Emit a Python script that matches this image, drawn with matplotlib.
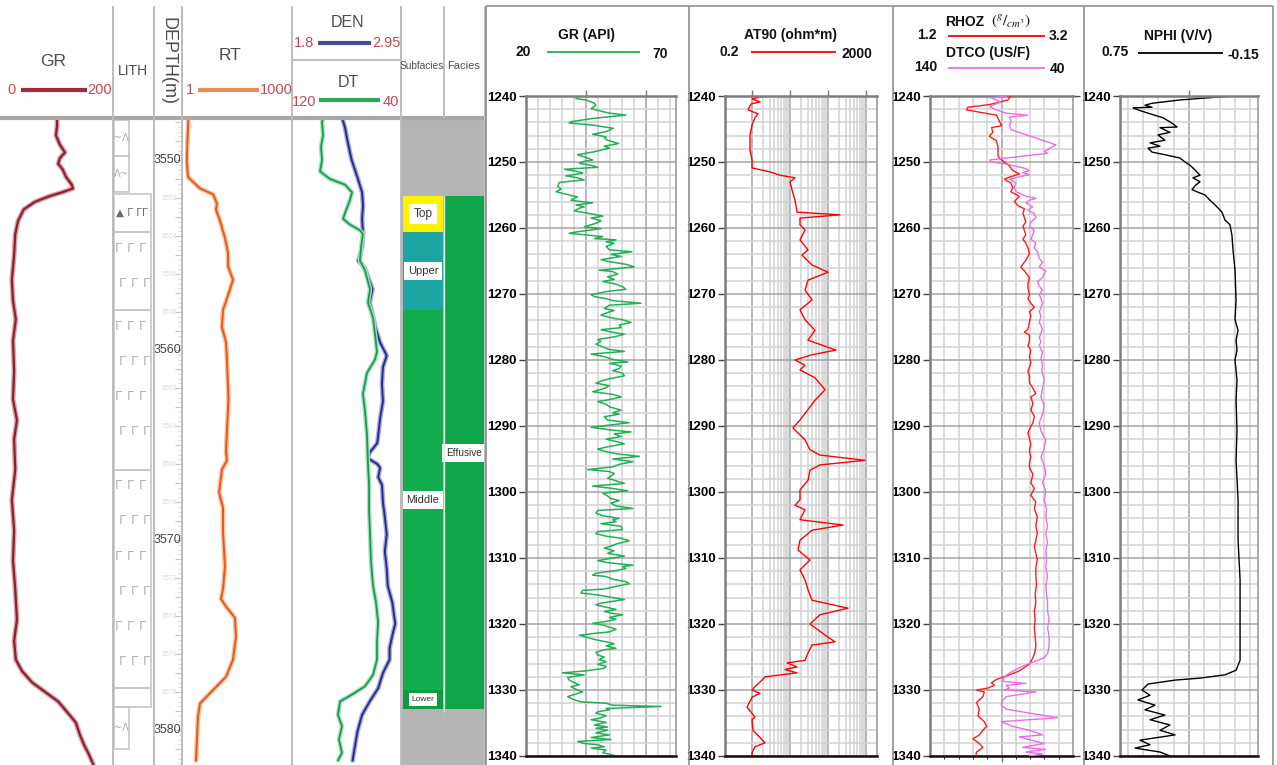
import numpy as np
import matplotlib
matplotlib.use("Agg")
import matplotlib.pyplot as plt
from matplotlib.ticker import FixedLocator, MultipleLocator, NullFormatter

# ---------------------------------------------------------------
# Core interval composite (left block)
# ---------------------------------------------------------------
core_depth_ticks = [3550, 3560, 3570, 3580]
core_depth_faint = [3552, 3554, 3556, 3558, 3562, 3564, 3566, 3568,
                    3572, 3574, 3576, 3578]

core_gr_depth = [3547.8, 3548.2, 3548.7, 3549.2, 3549.6, 3549.9, 3550.2, 3550.5, 3550.9, 3551.3,
                 3551.5, 3551.7, 3551.9, 3552.2, 3552.6, 3553.2, 3553.9, 3555.0, 3556.3, 3557.4,
                 3558.4, 3559.5, 3561.1, 3562.6, 3563.7, 3564.7, 3566.3, 3567.9, 3569.5, 3571.1,
                 3572.6, 3574.2, 3575.3, 3576.3, 3576.9, 3577.5, 3578.0, 3578.5, 3579.1, 3579.6,
                 3580.3, 3580.8, 3581.2, 3581.8]
core_gr = [101, 101, 99, 106, 115, 106, 103, 111, 117, 127,
           129, 110, 88, 62, 42, 32, 27, 25, 21, 23,
           28, 23, 25, 23, 30, 25, 27, 21, 25, 23,
           27, 30, 25, 28, 39, 57, 80, 103, 120, 134,
           142, 149, 156, 165]

core_rt_depth = [3547.9, 3550.0, 3550.9, 3551.5, 3551.8, 3552.3, 3552.6, 3553.2, 3554.1, 3554.9,
                 3555.6, 3556.3, 3556.8, 3557.9, 3558.8, 3559.6, 3560.5, 3562.6, 3565.3, 3565.8,
                 3566.3, 3567.5, 3568.3, 3569.6, 3571.4, 3572.6, 3573.1, 3573.5, 3574.1, 3575.1,
                 3576.3, 3577.2, 3577.9, 3578.6, 3579.3, 3580.4, 3581.6]
core_rt = [1.24, 1.12, 1.22, 2.66, 6.2, 8.05, 7.5, 9.8, 13.5, 16.5,
           16.5, 22.8, 18.8, 11.9, 11.1, 14.5, 15.4, 17.0, 14.5, 15.4,
           11.1, 9.2, 11.9, 11.9, 13.5, 11.9, 10.4, 14.5, 26.0, 27.7,
           22.8, 14.5, 6.2, 2.66, 2.33, 2.19, 2.05]

core_den_depth = [3547.8, 3548.3, 3549.1, 3550.0, 3550.9, 3551.7, 3552.4, 3553.1, 3553.9, 3554.6,
                  3555.3, 3555.7, 3556.4, 3556.8, 3557.5, 3558.1, 3558.8, 3559.6, 3560.3, 3560.9,
                  3561.8, 3562.7, 3563.6, 3564.5, 3564.9, 3565.4, 3565.7, 3566.0, 3566.2, 3566.7,
                  3567.1, 3568.0, 3568.8, 3569.7, 3570.6, 3571.5, 3572.4, 3573.3, 3573.7, 3574.4,
                  3575.0, 3575.7, 3576.3, 3577.0, 3577.8, 3578.5, 3579.2, 3580.1, 3580.7, 3581.6]
core_den = [2.34, 2.37, 2.40, 2.44, 2.50, 2.55, 2.56, 2.55, 2.56, 2.55,
            2.51, 2.58, 2.63, 2.66, 2.63, 2.66, 2.69, 2.74, 2.81, 2.77,
            2.76, 2.77, 2.74, 2.72, 2.71, 2.63, 2.61, 2.71, 2.74, 2.72,
            2.76, 2.77, 2.79, 2.81, 2.79, 2.81, 2.82, 2.87, 2.88, 2.90,
            2.87, 2.84, 2.84, 2.77, 2.72, 2.63, 2.55, 2.50, 2.48, 2.45]

core_dt_depth = [3547.8, 3548.0, 3548.7, 3549.3, 3550.0, 3550.6, 3551.0, 3551.3, 3551.7, 3552.1,
                 3552.8, 3553.1, 3553.4, 3553.7, 3553.9, 3554.6, 3555.3, 3555.8, 3556.4, 3556.8,
                 3557.5, 3558.3, 3559.2, 3560.1, 3560.5, 3561.2, 3562.3, 3563.2, 3564.5, 3566.0,
                 3567.1, 3568.4, 3569.7, 3571.1, 3572.4, 3573.3, 3574.3, 3575.4, 3576.3, 3577.1,
                 3577.7, 3578.1, 3578.5, 3579.2, 3579.8, 3580.5, 3581.2, 3581.6]
core_dt = [96.5, 97.2, 96.5, 98.0, 97.2, 98.7, 91.4, 80.4, 75.2, 76.7,
           80.4, 81.8, 76.7, 69.4, 67.2, 68.6, 69.4, 65.7, 63.5, 62.0,
           63.5, 59.8, 58.3, 56.9, 58.3, 64.2, 67.2, 65.7, 64.2, 63.5,
           62.7, 62.7, 62.0, 61.3, 59.8, 57.6, 56.1, 56.9, 56.9, 59.8,
           65.7, 74.5, 84.0, 85.5, 82.6, 84.8, 82.6, 85.5]

lith_top = [3547.9, 3549.8, 3551.8, 3553.8, 3557.9, 3566.3, 3577.8, 3578.8]
lith_base = [3549.8, 3551.7, 3553.8, 3557.9, 3566.3, 3577.8, 3578.8, 3581.0]
lith_kind = ['tuff', 'tuff_r', 'breccia', 'lava', 'lava', 'lava', 'lava', 'tuff']

subfacies_names = ['Top', 'Upper', 'Middle', 'Lower']
subfacies_top = [3551.9, 3553.8, 3557.9, 3577.9]
subfacies_base = [3553.8, 3557.9, 3577.9, 3578.9]
subfacies_colors = ['#fff200', '#1ca5a2', '#12ad4c', '#0c9c42']
facies_name = 'Effusive'
facies_top = 3551.9
facies_base = 3578.9

# ---------------------------------------------------------------
# Wireline logs 1240-1340 m (right block)
# ---------------------------------------------------------------
log_depth_ticks = [1240, 1250, 1260, 1270, 1280, 1290, 1300, 1310, 1320, 1330, 1340]

gr_depth = [
    1240.0, 1240.05, 1240.4, 1240.6, 1241.1, 1241.4, 1241.9, 1242.1, 1242.6, 1242.9,
    1243.4, 1243.9, 1244.1, 1244.4, 1244.9, 1245.4, 1245.8, 1246.2, 1246.4, 1246.7,
    1247.2, 1247.6, 1247.9, 1248.4, 1248.9, 1249.4, 1249.7, 1249.9, 1250.2, 1250.5,
    1250.8, 1251.1, 1251.5, 1251.7, 1252.1, 1252.4, 1252.7, 1253.1, 1253.7, 1254.1,
    1254.5, 1255.0, 1255.3, 1255.5, 1255.8, 1256.2, 1256.5, 1256.8, 1257.0, 1257.4,
    1257.8, 1258.2, 1258.5, 1258.9, 1259.3, 1259.8, 1260.1, 1260.6, 1260.8, 1261.3,
    1261.6, 1261.8, 1262.1, 1262.3, 1262.8, 1263.3, 1263.6, 1264.0, 1264.3, 1264.8,
    1265.1, 1265.5, 1265.9, 1266.4, 1266.6, 1267.0, 1267.4, 1267.8, 1268.1, 1268.5,
    1268.9, 1269.3, 1269.6, 1270.1, 1270.4, 1270.7, 1271.0, 1271.4, 1271.7, 1272.2,
    1272.5, 1272.8, 1273.2, 1273.6, 1273.9, 1274.3, 1274.7, 1275.1, 1275.4, 1275.7,
    1276.1, 1276.5, 1276.9, 1277.2, 1277.6, 1278.0, 1278.4, 1278.7, 1279.1, 1279.5,
    1279.9, 1280.3, 1280.5, 1280.9, 1281.3, 1281.6, 1282.0, 1282.4, 1282.8, 1283.1,
    1283.5, 1283.9, 1284.3, 1284.8, 1285.2, 1285.6, 1286.0, 1286.3, 1286.7, 1287.1,
    1287.6, 1288.0, 1288.2, 1288.6, 1289.1, 1289.5, 1289.8, 1290.2, 1290.6, 1290.9,
    1291.2, 1291.6, 1292.0, 1292.4, 1292.7, 1293.1, 1293.5, 1293.9, 1294.2, 1294.6,
    1295.0, 1295.4, 1295.8, 1296.2, 1296.6, 1296.9, 1297.2, 1297.6, 1297.9, 1298.3,
    1298.7, 1299.1, 1299.4, 1299.8, 1300.2, 1300.6, 1301.0, 1301.3, 1301.7, 1302.1,
    1302.5, 1302.8, 1303.2, 1303.6, 1304.0, 1304.2, 1304.5, 1304.8, 1305.2, 1305.7,
    1306.0, 1306.3, 1306.7, 1307.0, 1307.4, 1307.8, 1308.2, 1308.5, 1308.9, 1309.3,
    1309.7, 1310.0, 1310.4, 1310.7, 1311.1, 1311.3, 1311.6, 1311.9, 1312.3, 1312.6,
    1312.8, 1313.2, 1313.6, 1313.9, 1314.3, 1314.7, 1314.9, 1315.3, 1315.6, 1315.9,
    1316.3, 1316.6, 1316.9, 1317.1, 1317.5, 1317.8, 1318.1, 1318.4, 1318.6, 1319.0,
    1319.3, 1319.7, 1319.9, 1320.2, 1320.4, 1320.8, 1321.2, 1321.4, 1321.7, 1321.9,
    1322.2, 1322.4, 1322.7, 1323.0, 1323.3, 1323.7, 1323.9, 1324.3, 1324.7, 1325.0,
    1325.4, 1325.7, 1326.1, 1326.4, 1326.7, 1327.1, 1327.4, 1327.7, 1328.1, 1328.5,
    1328.9, 1329.2, 1329.5, 1329.9, 1330.3, 1330.6, 1331.0, 1331.4, 1331.8, 1332.0,
    1332.3, 1332.5, 1332.8, 1333.0, 1333.3, 1333.5, 1333.9, 1334.3, 1334.5, 1334.9,
    1335.3, 1335.6, 1335.8, 1336.1, 1336.5, 1336.8, 1337.2, 1337.5, 1337.8, 1338.1,
    1338.3, 1338.6, 1338.8, 1339.1, 1339.5, 1340.0]
gr_api = [
    27.2, 36.7, 36.7, 40.0, 42.8, 43.3, 41.7, 43.3, 47.8, 53.3,
    42.2, 35.0, 34.4, 42.2, 49.1, 46.7, 42.2, 46.7, 46.1, 47.2,
    50.9, 46.1, 47.8, 43.3, 37.2, 40.6, 42.2, 39.4, 37.8, 41.7,
    43.9, 32.8, 37.8, 38.9, 33.3, 37.2, 39.4, 31.1, 30.6, 31.7,
    30.0, 34.4, 37.2, 36.1, 35.0, 42.2, 36.7, 39.4, 37.8, 36.1,
    41.1, 45.6, 41.7, 45.0, 43.3, 39.4, 45.0, 36.7, 34.4, 45.6,
    42.8, 50.0, 46.7, 49.4, 46.7, 47.8, 55.3, 48.3, 51.7, 45.0,
    47.8, 53.3, 56.1, 44.4, 48.9, 50.6, 47.2, 49.4, 45.6, 50.0,
    52.2, 53.3, 47.2, 41.7, 42.8, 46.7, 48.9, 58.3, 47.8, 46.1,
    49.4, 47.2, 45.0, 48.3, 52.2, 55.0, 51.1, 51.7, 45.0, 47.8,
    52.8, 49.4, 43.9, 45.0, 43.3, 45.6, 47.8, 52.8, 41.7, 46.1,
    48.9, 53.9, 47.8, 51.7, 51.1, 48.9, 52.2, 52.8, 48.3, 45.6,
    43.3, 47.8, 46.1, 42.2, 48.9, 51.7, 47.8, 43.9, 46.7, 47.8,
    51.7, 48.9, 51.1, 46.1, 47.2, 54.4, 48.9, 41.7, 48.3, 55.0,
    49.4, 51.7, 46.7, 50.6, 52.8, 47.8, 43.9, 46.7, 50.0, 57.8,
    48.9, 55.6, 51.1, 48.9, 40.6, 47.8, 49.4, 48.3, 47.2, 50.0,
    52.8, 42.2, 47.8, 53.9, 45.6, 47.2, 48.3, 51.1, 48.3, 50.0,
    55.6, 43.9, 43.3, 45.6, 51.1, 48.9, 50.0, 45.0, 51.7, 52.2,
    43.9, 43.3, 46.7, 51.7, 54.4, 50.6, 48.3, 46.1, 49.4, 47.2,
    52.8, 48.9, 43.9, 47.2, 55.6, 52.2, 53.3, 50.0, 43.3, 42.2,
    46.7, 48.9, 53.3, 54.4, 50.0, 46.1, 38.9, 38.3, 43.9, 47.8,
    52.8, 48.3, 44.4, 43.3, 47.2, 50.0, 46.1, 48.9, 52.2, 47.8,
    50.0, 45.6, 42.2, 46.1, 47.2, 50.0, 47.8, 43.3, 37.8, 39.4,
    41.7, 43.3, 46.7, 49.4, 46.7, 50.0, 46.1, 43.3, 43.9, 46.1,
    44.4, 46.7, 43.9, 46.7, 46.1, 40.0, 32.2, 39.4, 33.9, 34.4,
    36.1, 37.8, 35.0, 36.7, 38.9, 36.7, 33.9, 35.6, 38.3, 46.7,
    48.9, 65.0, 46.7, 47.8, 43.9, 43.3, 46.7, 44.4, 41.7, 46.7,
    42.8, 47.2, 43.3, 47.2, 43.3, 47.8, 41.7, 48.3, 37.2, 39.4,
    43.9, 46.1, 41.7, 46.7, 45.6, 50.0]

at90_depth = [
    1240.0, 1240.45, 1240.9, 1241.2, 1242.1, 1242.7, 1243.3, 1244.4, 1245.9, 1248.2,
    1249.7, 1250.9, 1251.5, 1252.0, 1252.4, 1253.0, 1254.2, 1255.8, 1257.6, 1258.0,
    1258.5, 1259.5, 1260.3, 1261.8, 1263.3, 1264.1, 1265.6, 1266.7, 1267.9, 1269.4,
    1270.9, 1272.4, 1273.9, 1275.5, 1277.0, 1278.5, 1279.2, 1280.0, 1280.8, 1281.5,
    1282.7, 1284.5, 1286.1, 1289.1, 1290.3, 1292.1, 1293.6, 1294.4, 1295.2, 1295.9,
    1296.7, 1298.2, 1299.7, 1301.2, 1302.0, 1302.7, 1304.2, 1305.0, 1305.8, 1307.3,
    1308.8, 1310.3, 1311.8, 1313.3, 1314.8, 1316.4, 1317.6, 1318.6, 1320.0, 1322.0,
    1322.7, 1323.2, 1324.4, 1325.5, 1325.9, 1326.5, 1326.9, 1327.4, 1328.0, 1328.5,
    1329.5, 1330.0, 1330.5, 1331.1, 1332.6, 1334.1, 1334.5, 1336.1, 1338.0, 1338.6,
    1339.5, 1340.0]
at90_ohmm = [
    2.26, 1.03, 1.67, 0.97, 0.81, 1.48, 1.23, 1.03, 0.91, 0.91,
    1.03, 1.03, 3.06, 5.6, 13.9, 10.3, 11.6, 13.9, 15.7, 212,
    18.8, 18.8, 25.5, 18.8, 30.6, 21.2, 38.9, 103, 30.6, 25.5,
    38.9, 18.8, 25.5, 46.7, 30.6, 167, 38.9, 13.9, 25.5, 18.8,
    46.7, 86, 46.7, 18.8, 12.3, 25.5, 34.5, 63, 966, 63,
    34.5, 30.6, 18.8, 18.8, 13.9, 25.5, 18.8, 255, 38.9, 18.8,
    16.7, 34.5, 18.8, 25.5, 30.6, 38.9, 345, 63, 34.5, 103,
    157, 38.9, 30.6, 25.5, 8.6, 15.7, 7.6, 15.7, 2.26, 1.88,
    1.23, 1.03, 1.67, 1.03, 0.76, 1.23, 1.03, 1.09, 2.26, 1.23,
    1.03, 1.03]

rhoz_depth = [
    1240.0, 1240.6, 1241.3, 1241.7, 1242.1, 1242.9, 1243.8, 1244.5, 1244.8, 1245.5,
    1246.1, 1246.8, 1247.7, 1248.4, 1249.0, 1249.4, 1250.0, 1250.6, 1251.3, 1251.8,
    1252.3, 1252.6, 1253.2, 1253.9, 1254.5, 1255.2, 1256.0, 1256.6, 1257.1, 1257.8,
    1258.4, 1259.1, 1259.7, 1260.4, 1261.0, 1261.7, 1262.3, 1263.0, 1263.9, 1264.9,
    1265.9, 1266.5, 1267.5, 1268.5, 1269.1, 1270.1, 1270.7, 1271.4, 1272.0, 1272.7,
    1273.3, 1274.3, 1275.3, 1275.8, 1276.2, 1277.2, 1277.8, 1278.5, 1279.5, 1280.4,
    1281.1, 1281.7, 1282.4, 1283.4, 1284.3, 1285.1, 1285.6, 1286.6, 1287.6, 1288.5,
    1289.5, 1290.5, 1291.1, 1291.8, 1292.7, 1293.7, 1294.7, 1295.7, 1296.3, 1297.3,
    1298.6, 1299.5, 1300.5, 1301.5, 1302.5, 1303.8, 1305.1, 1306.3, 1307.3, 1308.3,
    1309.3, 1310.2, 1311.5, 1312.8, 1314.1, 1315.4, 1316.7, 1318.0, 1319.3, 1320.6,
    1321.9, 1323.2, 1324.2, 1325.1, 1326.1, 1327.1, 1327.7, 1328.4, 1328.9, 1329.3,
    1329.7, 1330.0, 1330.3, 1331.0, 1331.9, 1332.9, 1333.9, 1334.8, 1335.5, 1336.1,
    1336.8, 1337.4, 1338.1, 1338.7, 1339.4, 1340.0]
rhoz_gcc = [
    2.33, 2.29, 2.03, 1.73, 1.71, 2.13, 2.17, 2.20, 2.06, 2.08,
    2.03, 2.13, 2.15, 2.15, 2.15, 2.17, 2.24, 2.31, 2.36, 2.45,
    2.31, 2.24, 2.33, 2.36, 2.33, 2.45, 2.38, 2.43, 2.52, 2.50,
    2.52, 2.54, 2.50, 2.52, 2.54, 2.50, 2.54, 2.57, 2.59, 2.54,
    2.47, 2.52, 2.59, 2.57, 2.57, 2.59, 2.57, 2.61, 2.66, 2.59,
    2.61, 2.59, 2.57, 2.52, 2.59, 2.59, 2.57, 2.61, 2.59, 2.61,
    2.59, 2.57, 2.59, 2.59, 2.64, 2.68, 2.61, 2.64, 2.61, 2.66,
    2.64, 2.59, 2.57, 2.59, 2.61, 2.59, 2.61, 2.59, 2.59, 2.64,
    2.61, 2.66, 2.61, 2.68, 2.66, 2.70, 2.68, 2.70, 2.68, 2.66,
    2.68, 2.70, 2.68, 2.68, 2.69, 2.67, 2.68, 2.66, 2.67, 2.66,
    2.67, 2.68, 2.67, 2.64, 2.59, 2.45, 2.31, 2.13, 2.06, 2.10,
    2.01, 1.85, 1.96, 1.94, 1.85, 1.89, 1.87, 1.96, 1.99, 1.94,
    1.89, 1.80, 1.89, 1.94, 1.85, 1.84]

dtco_depth = [
    1240.0, 1240.3, 1240.9, 1241.6, 1242.1, 1242.6, 1242.9, 1243.2, 1243.8, 1244.5,
    1245.1, 1247.4, 1248.4, 1248.7, 1249.4, 1249.7, 1250.0, 1250.3, 1251.0, 1251.3,
    1251.6, 1251.9, 1252.6, 1253.2, 1253.9, 1254.5, 1255.2, 1255.5, 1255.8, 1256.2,
    1256.8, 1257.3, 1257.8, 1258.4, 1259.1, 1259.7, 1260.4, 1261.0, 1261.7, 1262.3,
    1263.0, 1263.6, 1264.6, 1265.2, 1265.9, 1266.5, 1267.5, 1268.1, 1268.8, 1269.4,
    1270.1, 1270.7, 1271.4, 1272.0, 1272.7, 1273.3, 1274.3, 1275.3, 1275.9, 1276.6,
    1277.2, 1277.8, 1278.8, 1279.8, 1280.8, 1281.7, 1283.0, 1284.3, 1285.6, 1286.9,
    1288.2, 1289.5, 1290.8, 1292.1, 1293.4, 1294.7, 1296.0, 1297.3, 1298.6, 1299.9,
    1301.2, 1302.5, 1303.8, 1305.1, 1306.3, 1307.6, 1308.9, 1310.2, 1311.5, 1312.8,
    1314.1, 1315.4, 1316.7, 1318.0, 1319.3, 1320.6, 1321.9, 1323.2, 1324.5, 1325.1,
    1325.8, 1326.4, 1327.4, 1328.0, 1328.7, 1329.0, 1329.3, 1329.7, 1330.0, 1330.3,
    1331.0, 1331.6, 1332.3, 1332.9, 1333.5, 1334.2, 1334.8, 1335.5, 1336.1, 1336.8,
    1337.1, 1337.4, 1338.1, 1338.7, 1339.0, 1339.4, 1339.7, 1340.0]
dtco_usf = [
    86.8, 97.2, 90.2, 98.3, 93.7, 86.8, 71.7, 84.4, 83.3, 84.4,
    83.3, 52.0, 60.1, 57.8, 86.8, 98.3, 97.2, 86.8, 72.9, 70.5,
    75.2, 70.5, 84.4, 79.8, 81.0, 79.8, 72.9, 65.9, 70.5, 72.9,
    68.2, 71.7, 67.1, 65.9, 69.4, 70.5, 67.1, 68.2, 69.4, 65.9,
    67.1, 64.8, 63.6, 61.3, 63.6, 59.0, 61.3, 64.8, 63.6, 61.3,
    63.6, 62.4, 61.3, 62.4, 63.6, 62.4, 63.6, 61.3, 62.4, 63.6,
    62.4, 63.6, 61.3, 62.4, 61.3, 61.8, 60.1, 61.3, 62.4, 60.1,
    61.3, 63.6, 62.4, 59.0, 60.1, 62.4, 60.1, 59.0, 61.3, 59.0,
    60.1, 58.5, 59.0, 57.8, 59.0, 57.8, 59.0, 58.5, 59.0, 57.8,
    59.0, 58.5, 57.8, 57.8, 56.7, 57.8, 56.7, 56.7, 57.8, 60.1,
    68.2, 75.2, 84.4, 87.9, 89.1, 72.9, 86.8, 84.4, 87.9, 65.9,
    86.8, 89.1, 90.2, 86.8, 70.5, 50.9, 90.2, 82.1, 70.5, 61.3,
    77.5, 72.9, 60.1, 75.2, 59.0, 72.9, 61.3, 70.5]

nphi_depth = [
    1240.0, 1240.6, 1241.1, 1241.4, 1241.7, 1241.8, 1242.1, 1242.6, 1243.3, 1244.1,
    1244.7, 1244.8, 1245.5, 1245.9, 1246.7, 1247.1, 1247.6, 1247.9, 1248.5, 1248.9,
    1249.4, 1250.0, 1250.5, 1251.2, 1252.0, 1252.4, 1253.0, 1253.6, 1254.2, 1255.0,
    1255.8, 1256.5, 1257.6, 1258.8, 1259.5, 1261.1, 1263.3, 1266.4, 1270.9, 1273.9,
    1275.5, 1277.0, 1278.5, 1280.0, 1283.0, 1286.1, 1290.6, 1295.2, 1301.2, 1307.3,
    1313.3, 1319.4, 1325.5, 1327.0, 1327.7, 1328.2, 1328.5, 1329.1, 1330.0, 1330.8,
    1331.5, 1332.3, 1333.0, 1333.8, 1334.5, 1335.3, 1336.1, 1336.8, 1337.6, 1338.3,
    1338.8, 1339.4, 1340.0]
nphi_vv = [
    0.020, 0.359, 0.541, 0.587, 0.541, 0.665, 0.633, 0.567, 0.470, 0.411,
    0.378, 0.489, 0.424, 0.502, 0.457, 0.554, 0.489, 0.567, 0.541, 0.457,
    0.359, 0.326, 0.293, 0.261, 0.228, 0.274, 0.228, 0.261, 0.280, 0.196,
    0.163, 0.130, 0.085, 0.065, 0.033, 0.020, 0.013, 0.000, -0.007, 0.000,
    -0.020, -0.007, -0.013, 0.000, -0.013, -0.007, -0.013, -0.007, -0.020, -0.020,
    -0.033, -0.033, -0.033, -0.007, 0.065, 0.228, 0.391, 0.567, 0.607, 0.554,
    0.633, 0.522, 0.587, 0.457, 0.554, 0.424, 0.489, 0.391, 0.620, 0.554,
    0.652, 0.489, 0.424]

# ---------------------------------------------------------------
W, H = 1277, 765
NARROW = ['Liberation Sans', 'DejaVu Sans']
SANS = ['Liberation Sans', 'DejaVu Sans']
HEAD_GRAY = '#4d4d4d'
SCALE_RED = '#c24a55'

fig = plt.figure(figsize=(W / 100, H / 100), dpi=100)
fig.patch.set_facecolor('white')


def px_axes(x0, y0, x1, y1, **kw):
    return fig.add_axes([x0 / W, 1 - y1 / H, (x1 - x0) / W, (y1 - y0) / H], **kw)


def bare(ax):
    ax.set_xticks([])
    ax.set_yticks([])
    for s in ax.spines.values():
        s.set_visible(False)
    ax.patch.set_alpha(0)


CORE_TOP = 3550 + (118 - 160) / 19.0
CORE_BOT = 3550 + (765 - 160) / 19.0

# ---- GR (core) ----
ax_grc = px_axes(0, 118, 113, 765)
ax_grc.set_xlim(0, 200)
ax_grc.set_ylim(CORE_BOT, CORE_TOP)
ax_grc.plot(core_gr, core_gr_depth, color='#dba3aa', lw=3.6, solid_capstyle='round')
ax_grc.plot(core_gr, core_gr_depth, color='#8c1f30', lw=1.6)
bare(ax_grc)

# ---- LITH ----
ax_lith = px_axes(113, 118, 154, 765)
ax_lith.set_xlim(0, 41)
ax_lith.set_ylim(CORE_BOT, CORE_TOP)
bare(ax_lith)
for top, base, kind in zip(lith_top, lith_base, lith_kind):
    narrow = kind.startswith('tuff')
    width = 15 if narrow else 37
    ax_lith.add_patch(plt.Rectangle((0.5, top), width, base - top, fill=False,
                                    edgecolor='#c6c6c6', lw=1.2))
    mid = 0.5 * (top + base)
    if kind == 'tuff':
        ax_lith.text(8, mid, '~Λ', ha='center', va='center', fontsize=7, color='#a8a8a8')
    elif kind == 'tuff_r':
        ax_lith.text(8, mid, 'Λ~', ha='center', va='center', fontsize=7, color='#a8a8a8')
    elif kind == 'breccia':
        ax_lith.text(19, mid, '▲ Γ ΓΓ', ha='center', va='center', fontsize=7.5, color='#6a6a6a')
    else:
        y = top + 0.85
        row = 0
        while y < base - 0.45:
            xs = [5, 17, 29] if row % 2 == 0 else [9, 21, 33]
            for xv in xs:
                ax_lith.text(xv, y, 'Γ', ha='center', va='center', fontsize=9,
                             color='#b0b0b0', family=['DejaVu Sans'])
            y += 1.85
            row += 1

# ---- DEPTH ----
ax_dep = px_axes(154, 118, 182, 765)
ax_dep.set_xlim(0, 1)
ax_dep.set_ylim(CORE_BOT, CORE_TOP)
for s in ax_dep.spines.values():
    s.set_visible(False)
ax_dep.set_xticks([])
ax_dep.yaxis.set_ticks_position('right')
ax_dep.yaxis.set_major_locator(MultipleLocator(1))
ax_dep.yaxis.set_minor_locator(MultipleLocator(0.25))
ax_dep.yaxis.set_major_formatter(NullFormatter())
ax_dep.tick_params(axis='y', which='major', direction='in', length=5, color='#c8c8c8', labelright=False)
ax_dep.tick_params(axis='y', which='minor', direction='in', length=3, color='#d6d6d6')
tr = ax_dep.get_yaxis_transform()
for d in core_depth_ticks:
    ax_dep.text(0.47, d, str(d), transform=tr, ha='center', va='center',
                fontsize=9, color='#444444', family=NARROW)
for d in core_depth_faint:
    ax_dep.text(0.55, d, str(d), transform=tr, ha='center', va='center',
                fontsize=5, color='#dcdcdc', family=NARROW)

# ---- RT ----
ax_rt = px_axes(185, 118, 291, 765)
ax_rt.set_xscale('log')
ax_rt.set_xlim(1, 1000)
ax_rt.set_ylim(CORE_BOT, CORE_TOP)
ax_rt.plot(core_rt, core_rt_depth, color='#f9c39d', lw=3.4, solid_capstyle='round')
ax_rt.plot(core_rt, core_rt_depth, color='#e8571b', lw=1.4)
bare(ax_rt)
ax_rt.minorticks_off()

# ---- DEN / DT ----
ax_den = px_axes(291, 118, 400, 765)
ax_den.set_xlim(1.8, 2.95)
ax_den.set_ylim(CORE_BOT, CORE_TOP)
ax_den.plot(core_den, core_den_depth, color='#a9acdc', lw=3.4, solid_capstyle='round')
ax_den.plot(core_den, core_den_depth, color='#262b8c', lw=1.4)
bare(ax_den)
ax_dt = ax_den.twiny()
ax_dt.set_xlim(120, 40)
ax_dt.plot(core_dt, core_dt_depth, color='#a7e2bd', lw=3.2, solid_capstyle='round')
ax_dt.plot(core_dt, core_dt_depth, color='#1b9a4f', lw=1.3)
bare(ax_dt)

# ---- Subfacies / Facies ----
ax_fac = px_axes(401, 118, 485, 765)
ax_fac.set_xlim(0, 84)
ax_fac.set_ylim(CORE_BOT, CORE_TOP)
ax_fac.set_facecolor('#b5b5b5')
for s in ax_fac.spines.values():
    s.set_visible(False)
ax_fac.set_xticks([])
ax_fac.set_yticks([])
for name, top, base, col in zip(subfacies_names, subfacies_top, subfacies_base, subfacies_colors):
    ax_fac.bar(22, base - top, bottom=top, width=40, color=col, edgecolor='none')
ax_fac.bar(63, facies_base - facies_top, bottom=facies_top, width=39, color='#0fa64a', edgecolor='none')
label_size = {'Top': 8.5, 'Upper': 8, 'Middle': 8, 'Lower': 6}
for name, top, base in zip(subfacies_names, subfacies_top, subfacies_base):
    ax_fac.text(22, 0.5 * (top + base), name, ha='center', va='center',
                fontsize=label_size[name], color='#333333', family=NARROW,
                bbox=dict(boxstyle='square,pad=0.35', fc='white', ec='none'))
ax_fac.text(63, 0.5 * (facies_top + facies_base), facies_name, ha='center', va='center',
            fontsize=7.2, color='#333333', family=NARROW,
            bbox=dict(boxstyle='square,pad=0.4', fc='white', ec='none'))

# ---------------------------------------------------------------
# Wireline tracks
# ---------------------------------------------------------------

def log_track(ax):
    ax.set_ylim(1340, 1240)
    ax.set_yticks(log_depth_ticks, [str(t) for t in log_depth_ticks],
                  fontsize=9.5, fontweight='bold', family=SANS)
    ax.yaxis.set_minor_locator(MultipleLocator(2))
    ax.tick_params(axis='y', which='major', length=5, width=1.0, color='#444444', pad=1.5)
    ax.tick_params(axis='y', which='minor', length=0)
    ax.tick_params(axis='x', which='both', bottom=False, labelbottom=False, labeltop=False)
    ax.tick_params(axis='x', which='major', top=True, length=4, width=1.0, color='#7a7a7a')
    ax.tick_params(axis='x', which='minor', top=False)
    ax.xaxis.set_major_formatter(NullFormatter())
    ax.xaxis.set_minor_formatter(NullFormatter())
    ax.grid(which='minor', color='#d2d2d2', lw=1.1)
    ax.grid(which='major', color='#a4a4a4', lw=1.1)
    ax.set_axisbelow(True)
    for side, c, lw in [('left', '#7d7d7d', 1.8), ('top', '#7d7d7d', 1.8),
                        ('right', '#9c9c9c', 1.2), ('bottom', '#111111', 1.8)]:
        ax.spines[side].set_color(c)
        ax.spines[side].set_linewidth(lw)


ax_gr = px_axes(526, 96, 676, 756)
ax_gr.set_xlim(20, 70)
ax_gr.xaxis.set_major_locator(FixedLocator([40, 60]))
ax_gr.xaxis.set_minor_locator(MultipleLocator(4))
log_track(ax_gr)
ax_gr.plot(gr_api, gr_depth, color='#22b056', lw=1.1)

ax_at = px_axes(725, 96, 877, 756)
ax_at.set_xscale('log')
ax_at.set_xlim(0.2, 2000)
ax_at.xaxis.set_major_locator(FixedLocator([1, 10, 100, 1000]))
ax_at.xaxis.set_minor_locator(FixedLocator(
    [m * 10 ** e for e in range(0, 4) for m in range(2, 10) if m * 10 ** e < 2000]))
log_track(ax_at)
ax_at.plot(at90_ohmm, at90_depth, color='#ff0000', lw=1.0)

ax_rh = px_axes(930, 96, 1073, 756)
ax_rh.set_xlim(1.2, 3.2)
ax_rh.xaxis.set_major_locator(FixedLocator([2.2]))
ax_rh.xaxis.set_minor_locator(FixedLocator(np.round(np.arange(1.4, 3.19, 0.2), 1)))
log_track(ax_rh)
ax_rh.tick_params(axis='y', which='major', right=True, labelright=False)
ax_dtco = ax_rh.twiny()
ax_dtco.set_xlim(140, 40)
ax_dtco.set_xticks([])
for s in ax_dtco.spines.values():
    s.set_visible(False)
ax_dtco.plot(dtco_usf, dtco_depth, color='#ec6de8', lw=1.0)
ax_rh.plot(rhoz_gcc, rhoz_depth, color='#ff1a1a', lw=1.0, zorder=3)

ax_np = px_axes(1120, 96, 1258, 756)
ax_np.set_xlim(0.75, -0.15)
ax_np.xaxis.set_major_locator(FixedLocator([0.3]))
ax_np.xaxis.set_minor_locator(FixedLocator(np.round(np.arange(-0.1, 0.75, 0.1), 2)))
log_track(ax_np)
ax_np.plot(nphi_vv, nphi_depth, color='#000000', lw=1.0)

# ---------------------------------------------------------------
# Frame lines and headers (pixel space overlay)
# ---------------------------------------------------------------
deco = px_axes(0, 0, W, H, zorder=20)
deco.set_xlim(0, W)
deco.set_ylim(H, 0)
deco.axis('off')


def hline(x0, x1, y, **kw):
    deco.plot([x0, x1], [y, y], solid_capstyle='butt', **kw)


def vline(x, y0, y1, **kw):
    deco.plot([x, x], [y0, y1], solid_capstyle='butt', **kw)


def txt(x, y, s, **kw):
    kw.setdefault('ha', 'center')
    kw.setdefault('va', 'center')
    deco.text(x, y, s, **kw)


# left block frame
hline(0, 485, 118, color='#a8a8a8', lw=3)
for xv in [113, 154, 182, 292, 401, 485]:
    vline(xv, 6, 765, color='#bdbdbd', lw=1.4)
vline(444, 6, 118, color='#bdbdbd', lw=1.4)
vline(444, 196, 712, color='#d9f0df', lw=1.0)
hline(292, 401, 60, color='#bdbdbd', lw=1.4)

# left headers
txt(53, 61, 'GR', fontsize=12.5, color=HEAD_GRAY, family=NARROW)
txt(11, 90, '0', fontsize=10.5, color=SCALE_RED, family=NARROW)
hline(21, 87, 90, color='#9c2d3d', lw=3)
txt(100, 90, '200', fontsize=10.5, color=SCALE_RED, family=NARROW)
txt(133, 71, 'LITH', fontsize=10, color=HEAD_GRAY, family=NARROW)
txt(168, 61, 'DEPTH(m)', fontsize=13, color=HEAD_GRAY, family=NARROW, rotation=-90)
txt(230, 55, 'RT', fontsize=12.5, color=HEAD_GRAY, family=NARROW)
txt(190, 90, '1', fontsize=10.5, color=SCALE_RED, family=NARROW)
hline(198, 259, 90, color='#e88b5e', lw=3)
txt(276, 90, '1000', fontsize=10.5, color=SCALE_RED, family=NARROW)
txt(348, 22, 'DEN', fontsize=11.5, color=HEAD_GRAY, family=NARROW)
txt(304, 43, '1.8', fontsize=10.5, color=SCALE_RED, family=NARROW)
hline(318, 371, 43, color='#474c98', lw=3)
txt(386, 43, '2.95', fontsize=10.5, color=SCALE_RED, family=NARROW)
txt(348, 82, 'DT', fontsize=11.5, color=HEAD_GRAY, family=NARROW)
txt(304, 102, '120', fontsize=10.5, color=SCALE_RED, family=NARROW)
hline(319, 380, 100, color='#2ea65a', lw=3)
txt(391, 102, '40', fontsize=10.5, color=SCALE_RED, family=NARROW)
txt(422, 66, 'Subfacies', fontsize=7.3, color=HEAD_GRAY, family=NARROW)
txt(464, 66, 'Facies', fontsize=8, color=HEAD_GRAY, family=NARROW)

# right block frame
hline(486, 1273, 6, color='#8f8f8f', lw=1.2)
for xv in [486, 689, 893, 1084, 1273]:
    vline(xv, 6, 765, color='#8f8f8f', lw=1.2)

BOLD = dict(fontsize=10, fontweight='bold', family=SANS, color='#111111')
txt(587, 35, 'GR (API)', **BOLD)
txt(523, 52, '20', **BOLD)
hline(547, 640, 52, color='#22b056', lw=1.3)
txt(660, 54, '70', **BOLD)

txt(790, 35, 'AT90 (ohm*m)', **BOLD)
txt(729, 52, '0.2', **BOLD)
hline(751, 836, 52, color='#ff0000', lw=1.3)
txt(857, 54, '2000', **BOLD)

txt(965, 22, 'RHOZ', **BOLD)
txt(1011, 21, r'$(^{g}/_{cm^{3}})$', fontsize=11, color='#111111', math_fontfamily='stix')
txt(927, 35, '1.2', **BOLD)
hline(948, 1045, 36, color='#ff0000', lw=1.3)
txt(1058, 36, '3.2', **BOLD)
txt(988, 53, 'DTCO (US/F)', **BOLD)
txt(926, 67, '140', **BOLD)
hline(948, 1045, 68, color='#ec6de8', lw=1.3)
txt(1058, 69, '40', **BOLD)

txt(1178, 36, 'NPHI (V/V)', **BOLD)
txt(1115, 52, '0.75', **BOLD)
hline(1138, 1223, 53, color='#000000', lw=1.3)
txt(1243, 55, '-0.15', **BOLD)

fig.savefig('out.png', dpi=100, facecolor='white')
